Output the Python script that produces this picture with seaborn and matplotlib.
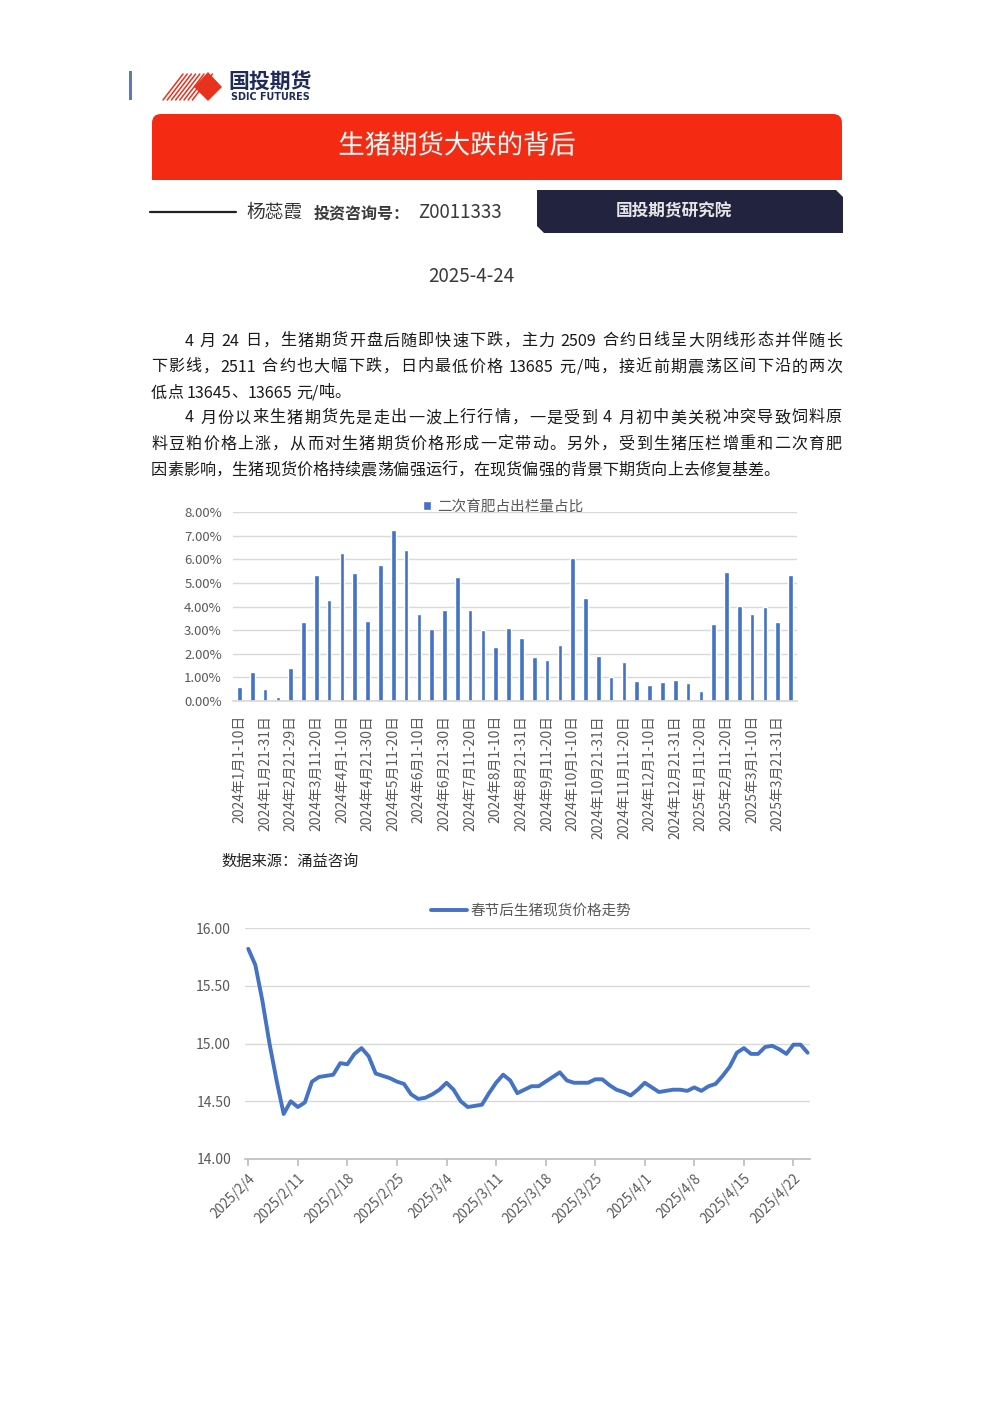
import re
import numpy as np
import pandas as pd
import matplotlib
matplotlib.use('Agg')
import matplotlib.pyplot as plt
import seaborn as sns
from matplotlib.patches import Polygon, FancyBboxPatch, Rectangle
from matplotlib.lines import Line2D
from matplotlib.ticker import PercentFormatter
import matplotlib.patheffects as pe

# ------------------------------------------------------------------
# DATA
# ------------------------------------------------------------------
bar_labels = [
    '2024年1月1-10日', '2024年1月11-20日', '2024年1月21-31日', '2024年2月1-10日',
    '2024年2月21-29日', '2024年3月1-10日', '2024年3月11-20日', '2024年3月21-31日',
    '2024年4月1-10日', '2024年4月11-20日', '2024年4月21-30日', '2024年5月1-10日',
    '2024年5月11-20日', '2024年5月21-31日', '2024年6月1-10日', '2024年6月11-20日',
    '2024年6月21-30日', '2024年7月1-10日', '2024年7月11-20日', '2024年7月21-31日',
    '2024年8月1-10日', '2024年8月11-20日', '2024年8月21-31日', '2024年9月1-10日',
    '2024年9月11-20日', '2024年9月21-30日', '2024年10月1-10日', '2024年10月11-20日',
    '2024年10月21-31日', '2024年11月1-10日', '2024年11月11-20日', '2024年11月21-30日',
    '2024年12月1-10日', '2024年12月11-20日', '2024年12月21-31日', '2025年1月1-10日',
    '2025年1月11-20日', '2025年2月1-10日', '2025年2月11-20日', '2025年2月21-28日',
    '2025年3月1-10日', '2025年3月11-20日', '2025年3月21-31日', '2025年4月1-10日',
]
# share of second fattening in slaughter, percent
bar_values = [
    0.59, 1.23, 0.51, 0.18, 1.39, 3.34, 5.32, 4.27, 6.25, 5.41, 3.38,
    5.75, 7.23, 6.38, 3.68, 3.04, 3.85, 5.24, 3.85, 3.00, 2.28, 3.11,
    2.65, 1.85, 1.73, 2.35, 6.04, 4.34, 1.90, 1.01, 1.65, 0.85, 0.68,
    0.79, 0.89, 0.76, 0.42, 3.25, 5.45, 4.01, 3.68, 3.97, 3.34, 5.32,
]
bar_legend = '二次育肥占出栏量占比'

# daily spot price after spring festival, from 2025/2/4
price_start = '2025-02-04'
price_values = [
    15.82, 15.68, 15.37, 15.00, 14.68, 14.39, 14.50, 14.45, 14.49, 14.67,
    14.71, 14.72, 14.73, 14.83, 14.82, 14.91, 14.96, 14.89, 14.74, 14.72,
    14.70, 14.67, 14.65, 14.56, 14.52, 14.53, 14.56, 14.60, 14.66, 14.60,
    14.50, 14.45, 14.46, 14.47, 14.57, 14.66, 14.73, 14.68, 14.57, 14.60,
    14.63, 14.63, 14.67, 14.71, 14.75, 14.68, 14.66, 14.66, 14.66, 14.69,
    14.69, 14.64, 14.60, 14.58, 14.55, 14.60, 14.66, 14.62, 14.58, 14.59,
    14.60, 14.60, 14.59, 14.62, 14.59, 14.63, 14.65, 14.72, 14.80, 14.92,
    14.96, 14.91, 14.91, 14.97, 14.98, 14.95, 14.91, 14.99, 14.99, 14.92,
]
line_legend = '春节后生猪现货价格走势'

title = '生猪期货大跌的背后'
author = '杨蕊霞'
license_label = '投资咨询号：'
license_no = 'Z0011333'
institute = '国投期货研究院'
report_date = '2025-4-24'
source_note = '数据来源：涌益咨询'
body_lines = [
    ('4 月 24 日，生猪期货开盘后随即快速下跌，主力 2509 合约日线呈大阴线形态并伴随长', 185, 341, True),
    ('下影线，2511 合约也大幅下跌，日内最低价格 13685 元/吨，接近前期震荡区间下沿的两次', 151, 367, True),
    ('低点 13645、13665 元/吨。', 151, 393, False),
    ('4 月份以来生猪期货先是走出一波上行行情，一是受到 4 月初中美关税冲突导致饲料原', 185, 418, True),
    ('料豆粕价格上涨，从而对生猪期货价格形成一定带动。另外，受到生猪压栏增重和二次育肥', 151, 444, True),
    ('因素影响，生猪现货价格持续震荡偏强运行，在现货偏强的背景下期货向上去修复基差。', 151, 470, False),
]

# ------------------------------------------------------------------
# FIGURE SETUP
# ------------------------------------------------------------------
W, H = 992, 1403
sns.set_theme(style='white')
plt.rcParams['font.family'] = ['Noto Sans CJK SC', 'DejaVu Sans']

fig = plt.figure(figsize=(W / 100, H / 100), dpi=100)
fig.patch.set_facecolor('white')


def fx(x):
    return x / W


def fy(y):
    return 1 - y / H


def inch(x, y):
    # page pixel (top-left origin) -> inches for dpi_scale_trans
    return (x / 100, (H - y) / 100)


def px_rect(x0, y0, x1, y1):
    return [fx(x0), fy(y1), (x1 - x0) / W, (y1 - y0) / H]


tr = fig.dpi_scale_trans
red = '#f42b12'

# ------------------------------------------------------------------
# HEADER
# ------------------------------------------------------------------
fig.patches.append(Rectangle(inch(129, 100), 0.03, 0.29, transform=tr,
                             color='#5b7bb5', lw=0, figure=fig))

# logo: red stripes + diamond
for i in range(8):
    x0 = 163 + i * 4.2
    fig.add_artist(Line2D([x0 / 100, (x0 + 20) / 100],
                          [(H - 100) / 100, (H - 74) / 100],
                          transform=tr, color='#e8321e', lw=1.1))
fig.patches.append(Polygon([inch(208, 72), inch(222, 87), inch(208, 101), inch(194, 87)],
                           closed=True, transform=tr, color='#e8321e', lw=0, figure=fig))
fig.text(fx(228), fy(82.5), '国投期货', fontsize=15, fontweight='bold',
         color='#1f2a5a', va='center', ha='left')
fig.text(fx(231), fy(97.5), 'SDIC FUTURES', fontsize=6.9, fontweight='bold',
         color='#1f2a5a', va='center', ha='left', family=['DejaVu Sans'])

# red banner with rounded top
fig.patches.append(FancyBboxPatch(inch(152, 180), 6.90, 0.66,
                                  boxstyle='round,pad=0,rounding_size=0.09',
                                  transform=tr, color=red, lw=0, figure=fig))
fig.patches.append(Rectangle(inch(152, 180), 6.90, 0.5, transform=tr,
                             color=red, lw=0, figure=fig))
fig.text(fx(457), fy(146), title, fontsize=19, color='#fff4f0',
         ha='center', va='center',
         path_effects=[pe.withStroke(linewidth=1.2, foreground='#d83a25')])

# author line
fig.add_artist(Line2D([150 / 100, 236 / 100], [(H - 212) / 100] * 2,
                      transform=tr, color='#222222', lw=1.6))
fig.text(fx(246), fy(212), author, fontsize=13.5, color='#333333', va='center')
fig.text(fx(314), fy(213), license_label, fontsize=11.5, fontweight='bold',
         color='#3a3a3a', va='center')
fig.text(fx(418), fy(213), license_no, fontsize=13.5, color='#3a3a3a', va='center')

# navy institute box
fig.patches.append(Polygon([inch(537, 190), inch(836, 190), inch(843, 197),
                            inch(843, 233), inch(544, 233), inch(537, 226)],
                           closed=True, transform=tr, color='#22243f', lw=0, figure=fig))
fig.text(fx(674), fy(211), institute, fontsize=12, fontweight='bold',
         color='#e6e6e6', ha='center', va='center')

fig.text(fx(471), fy(276), report_date, fontsize=13.5, color='#3a3a3a',
         ha='center', va='center')

# ------------------------------------------------------------------
# BODY TEXT (justified lines)
# ------------------------------------------------------------------
renderer = fig.canvas.get_renderer()
for line, x_start, y, justify in body_lines:
    tokens = re.findall(r'[A-Za-z0-9./-]+|\s|.', line)
    texts = [fig.text(0, fy(y), tok, fontsize=11.6, color='#1a1a1a',
                      va='center', ha='left') for tok in tokens]
    widths = [t.get_window_extent(renderer=renderer).width for t in texts]
    gap = (842 - x_start - sum(widths)) / (len(tokens) - 1) if justify else 0
    x = x_start
    for t, w in zip(texts, widths):
        t.set_x(fx(x))
        x += w + gap

# ------------------------------------------------------------------
# BAR CHART
# ------------------------------------------------------------------
tick_color = '#595959'
grid_color = '#d9d9d9'

ax1 = fig.add_axes(px_rect(233, 512, 797, 701))
df_bar = pd.DataFrame({'period': bar_labels, 'ratio': bar_values})
sns.barplot(data=df_bar, x='period', y='ratio', color='#4472C4', saturation=1,
            width=0.36, ax=ax1, label=bar_legend)
ax1.set_ylim(0, 8)
ax1.set_yticks(np.arange(0, 8.01, 1))
ax1.yaxis.set_major_formatter(PercentFormatter(100, decimals=2))
ax1.set_xlim(-0.5, len(bar_labels) - 0.5)
ax1.set_xticks(range(0, len(bar_labels), 2))
ax1.set_xticklabels(bar_labels[::2], rotation=90, ha='center', va='top')
ax1.set_xlabel('')
ax1.set_ylabel('')
ax1.yaxis.grid(True, color=grid_color, lw=1)
ax1.set_axisbelow(True)
for s in ['top', 'right', 'left']:
    ax1.spines[s].set_visible(False)
ax1.spines['bottom'].set_color(grid_color)
ax1.tick_params(axis='x', length=0, pad=10, labelsize=10, labelcolor=tick_color)
ax1.tick_params(axis='y', length=0, pad=8, labelsize=9.5, labelcolor=tick_color)
ax1.set_facecolor('none')
ax1.legend(loc='center', bbox_to_anchor=(fx(503), fy(507)), bbox_transform=fig.transFigure,
           frameon=False, fontsize=10.5, labelcolor=tick_color,
           handlelength=0.6, handleheight=0.6, handletextpad=0.4)

fig.text(fx(221), fy(861), source_note, fontsize=11, color='#222222', va='center')

# ------------------------------------------------------------------
# LINE CHART
# ------------------------------------------------------------------
ax2 = fig.add_axes(px_rect(245, 928, 810, 1159))
dates = pd.date_range(price_start, periods=len(price_values), freq='D')
df_line = pd.DataFrame({'date': dates, 'price': price_values})
sns.lineplot(data=df_line, x='date', y='price', color='#4472C4', lw=2.8,
             ax=ax2, label=line_legend)
ax2.set_ylim(14, 16)
ax2.set_yticks(np.arange(14, 16.01, 0.5))
ax2.set_yticklabels([f'{v:.2f}' for v in np.arange(14, 16.01, 0.5)])
ax2.set_xlim(dates[0] - pd.Timedelta(hours=11), dates[-1] + pd.Timedelta(hours=8))
ticks = dates[::7]
ax2.set_xticks(ticks)
ax2.set_xticklabels([f'{d.year}/{d.month}/{d.day}' for d in ticks],
                    rotation=45, ha='right', rotation_mode='anchor')
ax2.set_xlabel('')
ax2.set_ylabel('')
ax2.yaxis.grid(True, color=grid_color, lw=1)
ax2.set_axisbelow(True)
for s in ['top', 'right', 'left']:
    ax2.spines[s].set_visible(False)
ax2.spines['bottom'].set_color('#bfbfbf')
ax2.tick_params(axis='x', bottom=True, length=5, color='#bfbfbf', pad=4,
                labelsize=9.8, labelcolor=tick_color)
ax2.tick_params(axis='y', length=0, pad=10, labelsize=10, labelcolor=tick_color)
ax2.set_facecolor('none')
ax2.legend(loc='center', bbox_to_anchor=(fx(531), fy(911)), bbox_transform=fig.transFigure,
           frameon=False, fontsize=10.5, labelcolor=tick_color,
           handlelength=2.5, handletextpad=0.2)

fig.savefig('out.png', dpi=100, facecolor='white')
plt.close(fig)
